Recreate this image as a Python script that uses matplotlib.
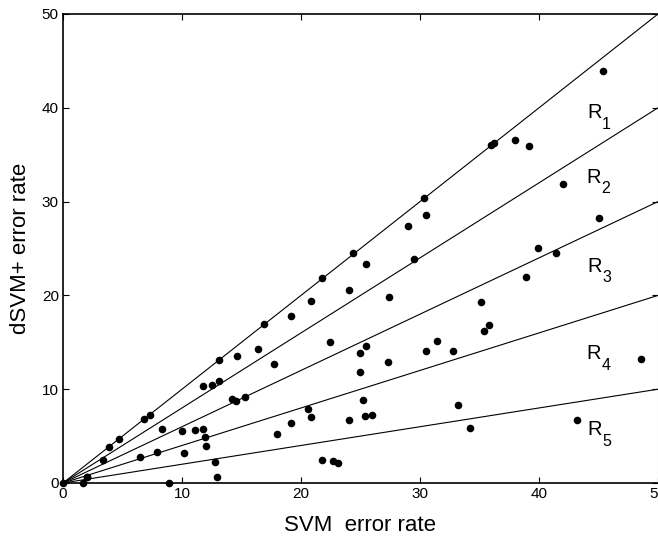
import matplotlib
matplotlib.use("Agg")
import matplotlib.pyplot as plt
import numpy as np

plt.rcParams['font.family'] = ['Liberation Sans', 'DejaVu Sans']

# SVM error rate (x) and dSVM+ error rate (y)
svm_err = [0.0, 1.65, 2.0, 8.9, 2.0, 3.4, 3.9, 4.7, 6.5, 7.9, 10.2,
           6.8, 7.3, 8.3, 10.0, 11.1, 11.8, 11.9, 12.0, 12.8, 12.9,
           11.8, 12.5, 13.1, 13.1, 14.2, 14.5, 15.3, 14.6, 16.4, 16.9, 17.7,
           17.95, 19.2, 19.2, 20.6, 20.8, 20.85, 21.8, 21.8, 22.4, 22.7, 23.1,
           24.0, 24.0, 24.4, 24.96, 24.96, 25.2, 25.4, 25.5, 25.5, 26.0,
           27.3, 27.4, 29.0, 29.5, 30.3, 30.5, 30.5, 31.4, 32.8, 33.2, 34.2,
           35.1, 35.4, 35.8, 35.95, 36.2, 38.0, 38.9, 39.2, 39.9, 41.4,
           42.0, 43.2, 45.0, 45.4, 48.6]
dsvm_err = [0.0, 0.0, 0.6, 0.0, 0.6, 2.45, 3.8, 4.7, 2.8, 3.3, 3.2,
            6.8, 7.3, 5.8, 5.5, 5.6, 5.8, 4.9, 3.9, 2.2, 0.6,
            10.3, 10.4, 10.9, 13.1, 9.0, 8.7, 9.2, 13.5, 14.3, 16.9, 12.7,
            5.2, 6.4, 17.8, 7.9, 7.0, 19.4, 21.9, 2.4, 15.0, 2.35, 2.1,
            20.6, 6.7, 24.5, 13.9, 11.8, 8.9, 7.1, 23.4, 14.6, 7.3,
            12.9, 19.8, 27.4, 23.9, 30.4, 28.6, 14.1, 15.1, 14.1, 8.3, 5.9,
            19.3, 16.2, 16.8, 36.0, 36.2, 36.6, 22.0, 35.9, 25.0, 24.5,
            31.9, 6.7, 28.2, 43.9, 13.2]

# reference lines y = k * x
slopes = [1.0, 0.8, 0.6, 0.4, 0.2]
region_labels = ["1", "2", "3", "4", "5"]
region_x = [44.05, 44.0, 44.1, 44.0, 44.1]
region_y = [38.9, 32.0, 22.5, 13.2, 5.1]

x_ticks = [0, 10, 20, 30, 40, 50]
y_ticks = [0, 10, 20, 30, 40, 50]

fig = plt.figure(figsize=(6.58, 5.38), dpi=100)
ax = fig.add_axes([63/658, 1-483/538, 595/658, 469/538])

xs = np.array([0, 50])
for k in slopes:
    ax.plot(xs, k*xs, color='black', lw=0.8, clip_on=True, zorder=2)

ax.scatter(svm_err, dsvm_err, s=30, color='black', zorder=3, clip_on=False,
           linewidths=0)

for lab, rx, ry in zip(region_labels, region_x, region_y):
    ax.text(rx, ry, "R", fontsize=14.5, ha='left', va='baseline')
    ax.annotate(lab, xy=(rx, ry), xytext=(10.5, -7.5), textcoords='offset points',
                fontsize=11.5, ha='left', va='baseline')

ax.set_xlim(0, 50)
ax.set_ylim(0, 50)
ax.set_xticks(x_ticks)
ax.set_yticks(y_ticks)
ax.tick_params(direction='in', top=True, right=True, length=4, width=0.8,
               labelsize=11, pad=3)
for s in ['left', 'bottom', 'top']:
    ax.spines[s].set_linewidth(1.2)
ax.spines['right'].set_color('#bbbbbb')
ax.set_xlabel("SVM  error rate", fontsize=16, labelpad=10)
ax.set_ylabel("dSVM+ error rate", fontsize=16, labelpad=8)

fig.savefig("out.png", dpi=100)
